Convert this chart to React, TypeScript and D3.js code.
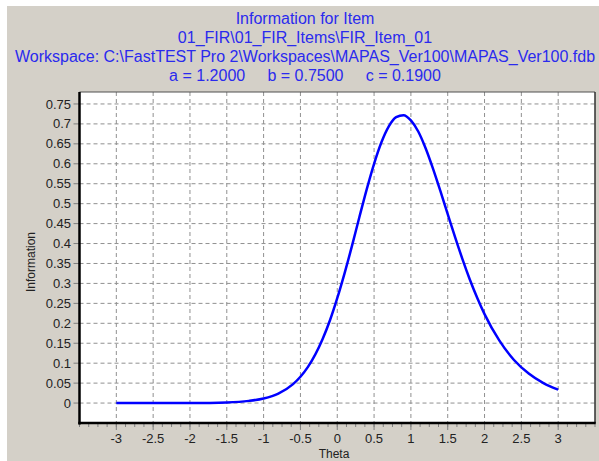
import React from "react";
import * as d3 from "d3";

const titleLines = [
  "Information for Item",
  "01_FIR\\01_FIR_Items\\FIR_Item_01",
  "Workspace: C:\\FastTEST Pro 2\\Workspaces\\MAPAS_Ver100\\MAPAS_Ver100.fdb",
  "a = 1.2000     b = 0.7500     c = 0.1900",
];

const thetaValues = [
  -3, -2.5, -2, -1.5, -1.2, -1, -0.8, -0.6, -0.5, -0.4, -0.2, -0.1, 0, 0.1, 0.2, 0.3, 0.4, 0.5,
  0.6, 0.7, 0.8, 0.9, 1.0, 1.1, 1.2, 1.3, 1.4, 1.5, 1.6, 1.7, 1.8, 1.9, 2.0, 2.2, 2.4, 2.6,
  2.8, 3.0,
];
const infoValues = [
  0.0, 0.00003, 0.00023, 0.0017, 0.0055, 0.0116, 0.0239, 0.0476, 0.066, 0.09, 0.16, 0.207,
  0.263, 0.326, 0.394, 0.466, 0.536, 0.6, 0.654, 0.694, 0.717, 0.722, 0.709, 0.681, 0.639,
  0.588, 0.532, 0.474, 0.416, 0.361, 0.31, 0.264, 0.223, 0.157, 0.108, 0.074, 0.05, 0.0335,
];

const xTicks = [-3, -2.5, -2, -1.5, -1, -0.5, 0, 0.5, 1, 1.5, 2, 2.5, 3];
const yTicks = [0, 0.05, 0.1, 0.15, 0.2, 0.25, 0.3, 0.35, 0.4, 0.45, 0.5, 0.55, 0.6, 0.65, 0.7, 0.75];

const W = 599;
const H = 461;
const L = 79.5;
const R = 595;
const T = 92;
const B = 423;

export default function App() {
  const x = d3.scaleLinear().domain([-3.5, 3.5]).range([L, R]);
  const y = d3.scaleLinear().domain([-0.05, 0.78]).range([B, T]);
  const minor = d3.range(-3.5, 3.5001, 0.125);
  const line = d3
    .line<number>()
    .x((_, i) => x(thetaValues[i]))
    .y((d) => y(d))
    .curve(d3.curveMonotoneX);
  const font = "'Liberation Sans', Arial, sans-serif";
  return (
    <svg
      width={W}
      height={H}
      style={{ position: "absolute", left: 0, top: 0, display: "block" }}
      fontFamily={font}
    >
      <rect x={0} y={0} width={W} height={H} fill="#ffffff" />
      <rect x={7} y={6} width={W - 7} height={H - 6} fill="#d4d0c8" />
      {titleLines.map((t, i) => (
        <text
          key={i}
          x={305}
          y={24 + i * 19}
          textAnchor="middle"
          fontSize={16}
          fill="#2a2aee"
          style={{ whiteSpace: "pre" }}
        >
          {t}
        </text>
      ))}
      <rect x={L} y={T} width={R - L} height={B - T} fill="#ffffff" />
      {xTicks.map((t) => (
        <line
          key={"gx" + t}
          x1={x(t)}
          x2={x(t)}
          y1={T}
          y2={B}
          stroke="#909090"
          strokeDasharray="4,3"
        />
      ))}
      {yTicks.map((t) => (
        <line
          key={"gy" + t}
          x1={L}
          x2={R}
          y1={y(t)}
          y2={y(t)}
          stroke="#909090"
          strokeDasharray="4,3"
        />
      ))}
      <path d={line(infoValues) || ""} fill="none" stroke="#0000ff" strokeWidth={2.5} />
      {minor.map((t) => (
        <line key={"mx" + t} x1={x(t)} x2={x(t)} y1={B} y2={B + 4} stroke="#808080" />
      ))}
      {xTicks.map((t) => (
        <line key={"tx" + t} x1={x(t)} x2={x(t)} y1={B} y2={B + 7} stroke="#808080" />
      ))}
      {yTicks.map((t) => (
        <line key={"ty" + t} x1={L - 6} x2={L} y1={y(t)} y2={y(t)} stroke="#808080" />
      ))}
      <line x1={L} x2={R} y1={T} y2={T} stroke="#505050" strokeWidth={1} />
      <line x1={R} x2={R} y1={T} y2={B} stroke="#303030" strokeWidth={1.5} />
      <line x1={L} x2={L} y1={T} y2={B + 1.5} stroke="#000" strokeWidth={2.5} />
      <line x1={L - 1.2} x2={R + 0.7} y1={B} y2={B} stroke="#000" strokeWidth={2.5} />
      {yTicks.map((t) => (
        <text
          key={"ly" + t}
          x={71}
          y={y(t)}
          dy="0.35em"
          textAnchor="end"
          fontSize={13}
          fill="#222"
        >
          {String(t)}
        </text>
      ))}
      {xTicks.map((t) => (
        <text key={"lx" + t} x={x(t)} y={443} textAnchor="middle" fontSize={13} fill="#222">
          {String(t)}
        </text>
      ))}
      <text x={334} y={458} textAnchor="middle" fontSize={12} fill="#222">
        Theta
      </text>
      <text
        transform="translate(35,262) rotate(-90)"
        textAnchor="middle"
        fontSize={12}
        fill="#222"
      >
        Information
      </text>
    </svg>
  );
}
